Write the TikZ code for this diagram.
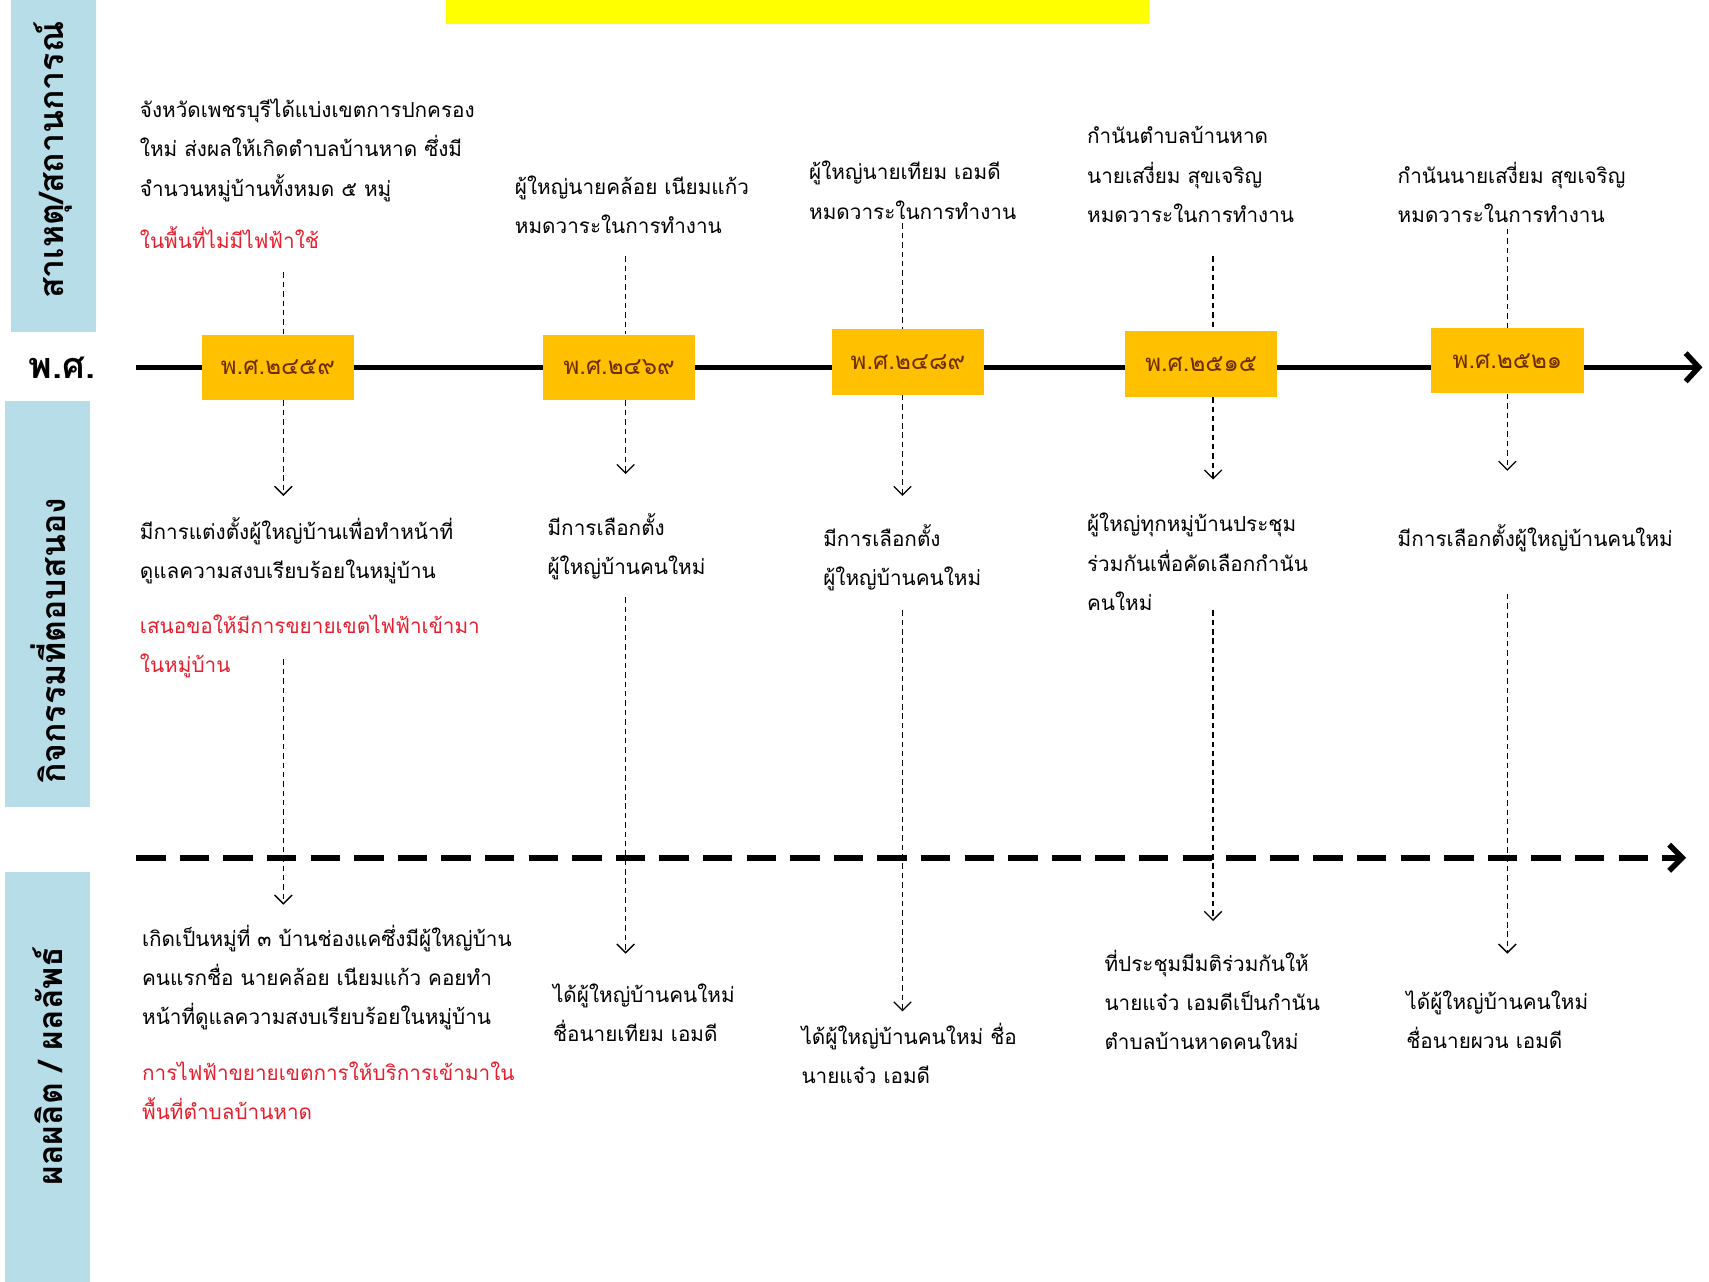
\documentclass[tikz,border=0pt]{standalone}
\usepackage{fontspec}
\setmainfont{Liberation Sans}
\newfontfamily\thai[Script=Thai]{Loma}
\usetikzlibrary{arrows.meta}
\definecolor{labblue}{RGB}{183,221,232}
\definecolor{yearor}{RGB}{255,192,0}
\definecolor{yeartxt}{RGB}{110,45,0}
\definecolor{thred}{RGB}{230,30,45}
\definecolor{bannery}{RGB}{255,255,0}
\begin{document}
\begin{tikzpicture}[x=0.5pt,y=-0.5pt,
  txt/.style={font=\thai\fontsize{9.5}{18}\selectfont, align=left, anchor=base west, inner sep=0pt, text=black},
  redtxt/.style={txt, text=thred},
  year/.style={fill=yearor, minimum width=70pt, minimum height=30pt, inner sep=0pt, font=\thai\fontsize{11}{12}\selectfont, text=yeartxt},
  lab/.style={fill=labblue, rotate=90, inner sep=0pt, minimum height=39pt, font=\thai\bfseries\fontsize{15.5}{18}\selectfont},
  conn/.style={line width=0.6pt, dash pattern=on 2.5pt off 1.8pt},
  arr/.style={conn, -{Straight Barb[length=4pt,width=8pt]}},
  mainline/.style={line width=2.5pt, -{Straight Barb[length=6pt,width=13pt]}},
  dashline/.style={line width=2.5pt, dash pattern=on 13.5pt off 6.5pt, -{Straight Barb[length=6pt,width=12pt]}}
]
\useasboundingbox (0,0) rectangle (1568,1176);
\clip (0,0) rectangle (1568,1176);
% banner
\node[fill=bannery, minimum width=322.5pt, minimum height=22pt, inner sep=0pt] (banner) at (732,0) {};
% side labels
\node[lab, minimum width=155pt] (lab1) at (49,150) {\hspace*{3pt}สาเหตุ/สถานการณ์};
\node[lab, minimum width=186pt] (lab2) at (44,554) {กิจกรรมที่ตอบสนอง\hspace*{34pt}};
\node[lab, minimum width=190pt] (lab3) at (44,990) {\hspace*{12pt}ผลผลิต / ผลลัพธ์};
\node[font=\thai\bfseries\fontsize{16.5}{18}\selectfont, inner sep=0pt] (pos) at (57,337) {พ.ศ.};
% main timelines
\coordinate (mA) at (125,337);
\coordinate (mB) at (1562,337);
\draw[mainline] (mA) -- (mB);
\coordinate (dA) at (125,787);
\coordinate (dB) at (1547,787);
\draw[dashline] (dA) -- (dB);
% year boxes
\node[year] (y1) at (255,337) {พ.ศ.๒๔๕๙};
\node[year] (y2) at (568,337) {พ.ศ.๒๔๖๙};
\node[year] (y3) at (833,332) {พ.ศ.๒๔๘๙};
\node[year] (y4) at (1102,334) {พ.ศ.๒๕๑๕};
\node[year] (y5) at (1383,331) {พ.ศ.๒๕๒๑};
% top texts (anchor = baseline of last line)
\node[txt] (t1) at (128,180) {จังหวัดเพชรบุรีได้แบ่งเขตการปกครอง\\ใหม่ ส่งผลให้เกิดตำบลบ้านหาด ซึ่งมี\\จำนวนหมู่บ้านทั้งหมด ๕ หมู่};
\node[redtxt] (r1) at (128,228) {ในพื้นที่ไม่มีไฟฟ้าใช้};
\node[txt] (t2) at (472,214) {ผู้ใหญ่นายคล้อย  เนียมแก้ว\\หมดวาระในการทำงาน};
\node[txt] (t3) at (742,201) {ผู้ใหญ่นายเทียม  เอมดี\\หมดวาระในการทำงาน};
\node[txt] (t4) at (997,204) {กำนันตำบลบ้านหาด\\นายเสงี่ยม  สุขเจริญ\\หมดวาระในการทำงาน};
\node[txt] (t5) at (1282,204) {กำนันนายเสงี่ยม สุขเจริญ\\หมดวาระในการทำงาน};
% middle texts
\node[txt] (m1) at (128,531) {มีการแต่งตั้งผู้ใหญ่บ้านเพื่อทำหน้าที่\\ดูแลความสงบเรียบร้อยในหมู่บ้าน};
\node[redtxt] (mr1) at (128,617) {เสนอขอให้มีการขยายเขตไฟฟ้าเข้ามา\\ในหมู่บ้าน};
\node[txt] (m2) at (502,527) {มีการเลือกตั้ง\\ผู้ใหญ่บ้านคนใหม่};
\node[txt] (m3) at (755,537) {มีการเลือกตั้ง\\ผู้ใหญ่บ้านคนใหม่};
\node[txt] (m4) at (997,560) {ผู้ใหญ่ทุกหมู่บ้านประชุม\\ร่วมกันเพื่อคัดเลือกกำนัน\\คนใหม่};
\node[txt] (m5) at (1282,501) {มีการเลือกตั้งผู้ใหญ่บ้านคนใหม่};
% bottom texts
\node[txt] (b1) at (130,940) {เกิดเป็นหมู่ที่ ๓ บ้านช่องแคซึ่งมีผู้ใหญ่บ้าน\\คนแรกชื่อ นายคล้อย  เนียมแก้ว คอยทำ\\หน้าที่ดูแลความสงบเรียบร้อยในหมู่บ้าน};
\node[redtxt] (br1) at (130,1027) {การไฟฟ้าขยายเขตการให้บริการเข้ามาใน\\พื้นที่ตำบลบ้านหาด};
\node[txt] (b2) at (507,956) {ได้ผู้ใหญ่บ้านคนใหม่\\ชื่อนายเทียม  เอมดี};
\node[txt] (b3) at (735,994) {ได้ผู้ใหญ่บ้านคนใหม่ ชื่อ\\นายแจ๋ว  เอมดี};
\node[txt] (b4) at (1013,963) {ที่ประชุมมีมติร่วมกันให้\\นายแจ๋ว  เอมดีเป็นกำนัน\\ตำบลบ้านหาดคนใหม่};
\node[txt] (b5) at (1290,962) {ได้ผู้ใหญ่บ้านคนใหม่\\ชื่อนายผวน  เอมดี};
% column connectors
\coordinate (c1a) at (260,250); \coordinate (c1b) at (260,455);
\coordinate (c1c) at (260,605); \coordinate (c1d) at (260,830);
\coordinate (c2a) at (574,235); \coordinate (c2b) at (574,435);
\coordinate (c2c) at (574,548); \coordinate (c2d) at (574,875);
\coordinate (c3a) at (828,205); \coordinate (c3b) at (828,455);
\coordinate (c3c) at (828,560); \coordinate (c3d) at (828,928);
\coordinate (c4a) at (1113,235); \coordinate (c4b) at (1113,440);
\coordinate (c4c) at (1113,560); \coordinate (c4d) at (1113,845);
\coordinate (c5a) at (1383,210); \coordinate (c5b) at (1383,432);
\coordinate (c5c) at (1383,545); \coordinate (c5d) at (1383,875);
\foreach \i in {1,...,5}{
  \draw[conn] (c\i a) -- (c\i a |- y\i.north);
  \draw[arr] (c\i a |- y\i.south) -- (c\i b);
  \draw[arr] (c\i c) -- (c\i d);
}
\end{tikzpicture}
\end{document}
